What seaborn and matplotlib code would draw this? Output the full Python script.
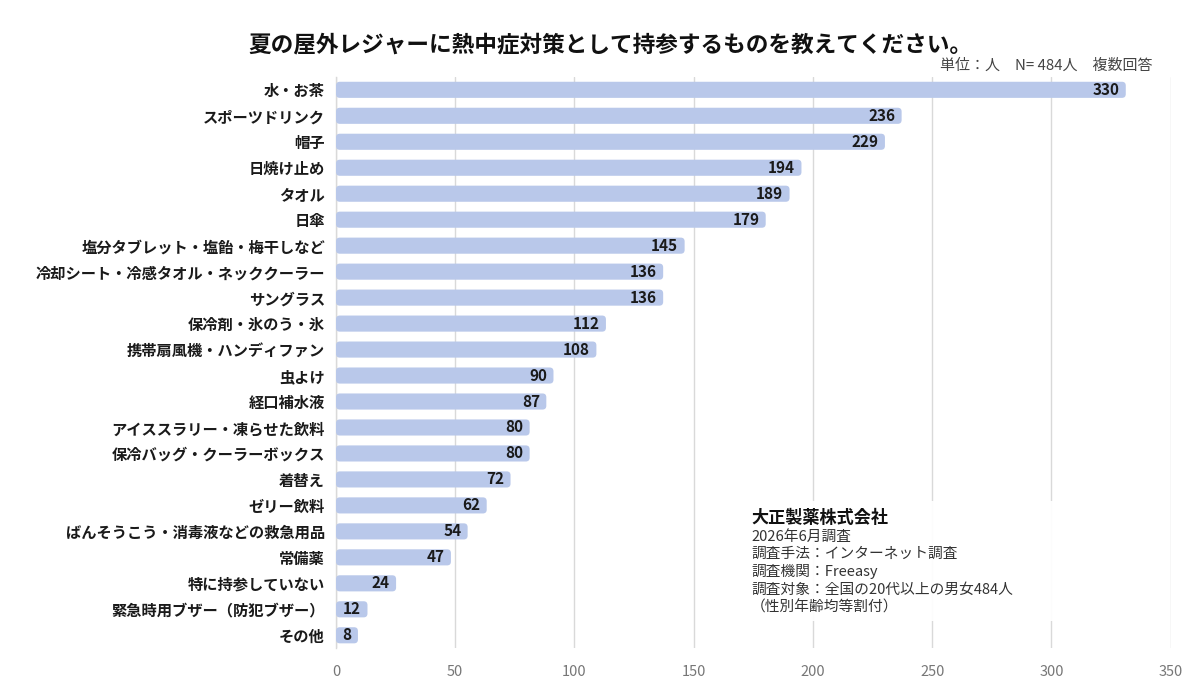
import matplotlib
matplotlib.use("Agg")
import matplotlib.pyplot as plt
import seaborn as sns
import pandas as pd
from matplotlib.patches import FancyBboxPatch

categories = ["水・お茶", "スポーツドリンク", "帽子", "日焼け止め", "タオル", "日傘",
              "塩分タブレット・塩飴・梅干しなど", "冷却シート・冷感タオル・ネッククーラー",
              "サングラス", "保冷剤・氷のう・氷", "携帯扇風機・ハンディファン", "虫よけ",
              "経口補水液", "アイススラリー・凍らせた飲料", "保冷バッグ・クーラーボックス",
              "着替え", "ゼリー飲料", "ばんそうこう・消毒液などの救急用品", "常備薬",
              "特に持参していない", "緊急時用ブザー（防犯ブザー）", "その他"]
values = [330, 236, 229, 194, 189, 179, 145, 136, 136, 112, 108, 90, 87, 80, 80, 72, 62, 54, 47, 24, 12, 8]
xticks = [0, 50, 100, 150, 200, 250, 300, 350]

title = "夏の屋外レジャーに熱中症対策として持参するものを教えてください。"
subtitle = "単位：人　N= 484人　複数回答"
note_head = "大正製薬株式会社"
note_lines = ["2026年6月調査", "調査手法：インターネット調査", "調査機関：Freeasy",
              "調査対象：全国の20代以上の男女484人", "（性別年齢均等割付）"]

sns.set_theme(style="white")
plt.rcParams['font.family'] = ['Noto Sans CJK JP', 'DejaVu Sans']

df = pd.DataFrame({"cat": categories, "val": values})

fig = plt.figure(figsize=(12, 6.86), dpi=100)
ax = fig.add_axes([0.28, 0.055, 0.6955, 0.833])

bar_color = "#b9c8ea"
sns.barplot(data=df, x="val", y="cat", orient="h", color=bar_color, width=0.62,
            saturation=1, ax=ax, zorder=3)

# round the bar corners
xr = 350.0
yr = len(categories)
aspect = (yr / (0.833 * 6.86)) / (xr / (0.6955 * 12))
for p in list(ax.patches):
    x, y = p.get_x(), p.get_y()
    w, h = p.get_width(), p.get_height()
    p.remove()
    fb = FancyBboxPatch((x, y), w + 1.2, h,
                        boxstyle="round,pad=0,rounding_size=1.6",
                        mutation_aspect=aspect,
                        facecolor=bar_color, edgecolor="none", zorder=3)
    ax.add_patch(fb)

for i, v in enumerate(values):
    ax.text(v - 1.5, i, str(v), ha="right", va="center", fontsize=11,
            fontweight="bold", color="#1a1a1a", zorder=4)

ax.set_xlim(0, 350)
ax.set_ylim(len(categories) - 0.5, -0.5)
ax.set_xticks(xticks)
ax.set_xticklabels([str(t) for t in xticks], color="#777777", fontsize=10.5)
ax.tick_params(axis="x", length=0, pad=12)
ax.tick_params(axis="y", length=0, pad=8)
for lab in ax.get_yticklabels():
    lab.set_fontsize(11)
    lab.set_fontweight("bold")
    lab.set_color("#1a1a1a")
ax.set_xlabel("")
ax.set_ylabel("")
ax.grid(axis="x", color="#d9d9d9", linewidth=1, zorder=0)
for s in ["top", "right", "bottom"]:
    ax.spines[s].set_visible(False)
ax.spines["left"].set_color("#d9d9d9")
ax.spines["left"].set_linewidth(1)

fig.text(0.509, 0.935, title, ha="center", va="center", fontsize=16.3, fontweight="bold", color="#111111")
fig.text(0.96, 0.905, subtitle, ha="right", va="center", fontsize=10.8, color="#444444")

# note box
box = FancyBboxPatch((0.62, 0.095), 0.31, 0.175, boxstyle="square,pad=0",
                     transform=fig.transFigure, facecolor="white", edgecolor="none",
                     zorder=5, alpha=0.95)
fig.patches.append(box)
fig.text(0.626, 0.245, note_head, ha="left", va="center", fontsize=12.3, fontweight="bold",
         color="#111111", zorder=6)
for k, line in enumerate(note_lines):
    fig.text(0.626, 0.218 - k * 0.0258, line, ha="left", va="center", fontsize=10.6,
             color="#333333", zorder=6)

fig.savefig("out.png", dpi=100, facecolor="white")
